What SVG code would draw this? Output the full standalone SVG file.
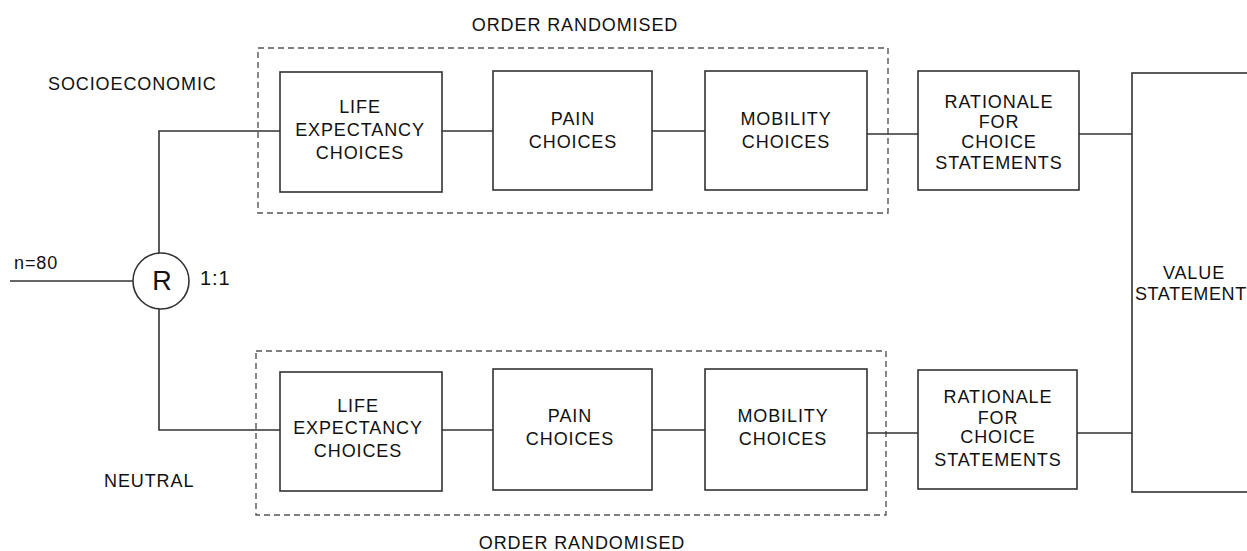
<svg xmlns="http://www.w3.org/2000/svg" width="1247" height="551" viewBox="0 0 1247 551">
<style>
.box{fill:#fff;stroke:#333;stroke-width:1.6}
.dash{fill:none;stroke:#555;stroke-width:1.4;stroke-dasharray:6 4}
.ln{fill:none;stroke:#333;stroke-width:1.6}
text{font-family:"Liberation Sans",Arial,sans-serif;font-size:18px;fill:#111;letter-spacing:0.9px}
.c{text-anchor:middle}
</style>
<rect width="1247" height="551" fill="#fff"/>
<g id="labels">
<text x="575" y="31" class="c">ORDER RANDOMISED</text>
<text x="582" y="549" class="c">ORDER RANDOMISED</text>
<text x="48" y="90">SOCIOECONOMIC</text>
<text x="104" y="487">NEUTRAL</text>
<text x="14" y="269">n=80</text>
<text x="200" y="285" style="font-size:20px">1:1</text>
</g>
<g id="groups">
<rect id="order-top" class="dash" x="258" y="48" width="630" height="165"/>
<rect id="order-bottom" class="dash" x="256" y="351" width="630" height="164"/>
</g>
<g id="connectors">
<path class="ln" d="M10 281H133"/>
<path class="ln" d="M159 253V131H280"/>
<path class="ln" d="M159 309V430H280"/>
<path class="ln" d="M442 131H493M652 131H705M867 134H918M1079 134H1132"/>
<path class="ln" d="M442 430H493M652 430H705M867 433H918M1077 433H1132"/>
</g>
<g id="randomise">
<circle class="box" cx="161" cy="281" r="28"/>
<text x="162" y="290" class="c" style="font-size:27px;letter-spacing:0">R</text>
</g>
<g id="life-top"><rect class="box" x="280" y="72" width="162" height="120"/>
<text class="c" x="360" y="113">LIFE</text><text class="c" x="360" y="136">EXPECTANCY</text><text class="c" x="360" y="159">CHOICES</text></g>
<g id="pain-top"><rect class="box" x="493" y="71" width="159" height="119"/>
<text class="c" x="573" y="125">PAIN</text><text class="c" x="573" y="148">CHOICES</text></g>
<g id="mobility-top"><rect class="box" x="705" y="71" width="162" height="119"/>
<text class="c" x="786" y="125">MOBILITY</text><text class="c" x="786" y="148">CHOICES</text></g>
<g id="rationale-top"><rect class="box" x="918" y="71" width="161" height="119"/>
<text class="c" x="999" y="108">RATIONALE</text><text class="c" x="999" y="128">FOR</text><text class="c" x="999" y="148">CHOICE</text><text class="c" x="999" y="169">STATEMENTS</text></g>
<g id="life-bottom"><rect class="box" x="280" y="372" width="162" height="119"/>
<text class="c" x="358" y="412">LIFE</text><text class="c" x="358" y="434">EXPECTANCY</text><text class="c" x="358" y="457">CHOICES</text></g>
<g id="pain-bottom"><rect class="box" x="493" y="369" width="159" height="121"/>
<text class="c" x="570" y="422">PAIN</text><text class="c" x="570" y="445">CHOICES</text></g>
<g id="mobility-bottom"><rect class="box" x="705" y="369" width="162" height="121"/>
<text class="c" x="783" y="422">MOBILITY</text><text class="c" x="783" y="445">CHOICES</text></g>
<g id="rationale-bottom"><rect class="box" x="918" y="370" width="159" height="119"/>
<text class="c" x="998" y="403">RATIONALE</text><text class="c" x="998" y="424">FOR</text><text class="c" x="998" y="443">CHOICE</text><text class="c" x="998" y="466">STATEMENTS</text></g>
<g id="value"><rect class="box" x="1132" y="73" width="140" height="419"/>
<text class="c" x="1194" y="279">VALUE</text><text x="1135" y="300" style="letter-spacing:0.6px">STATEMENTS</text></g>
</svg>
